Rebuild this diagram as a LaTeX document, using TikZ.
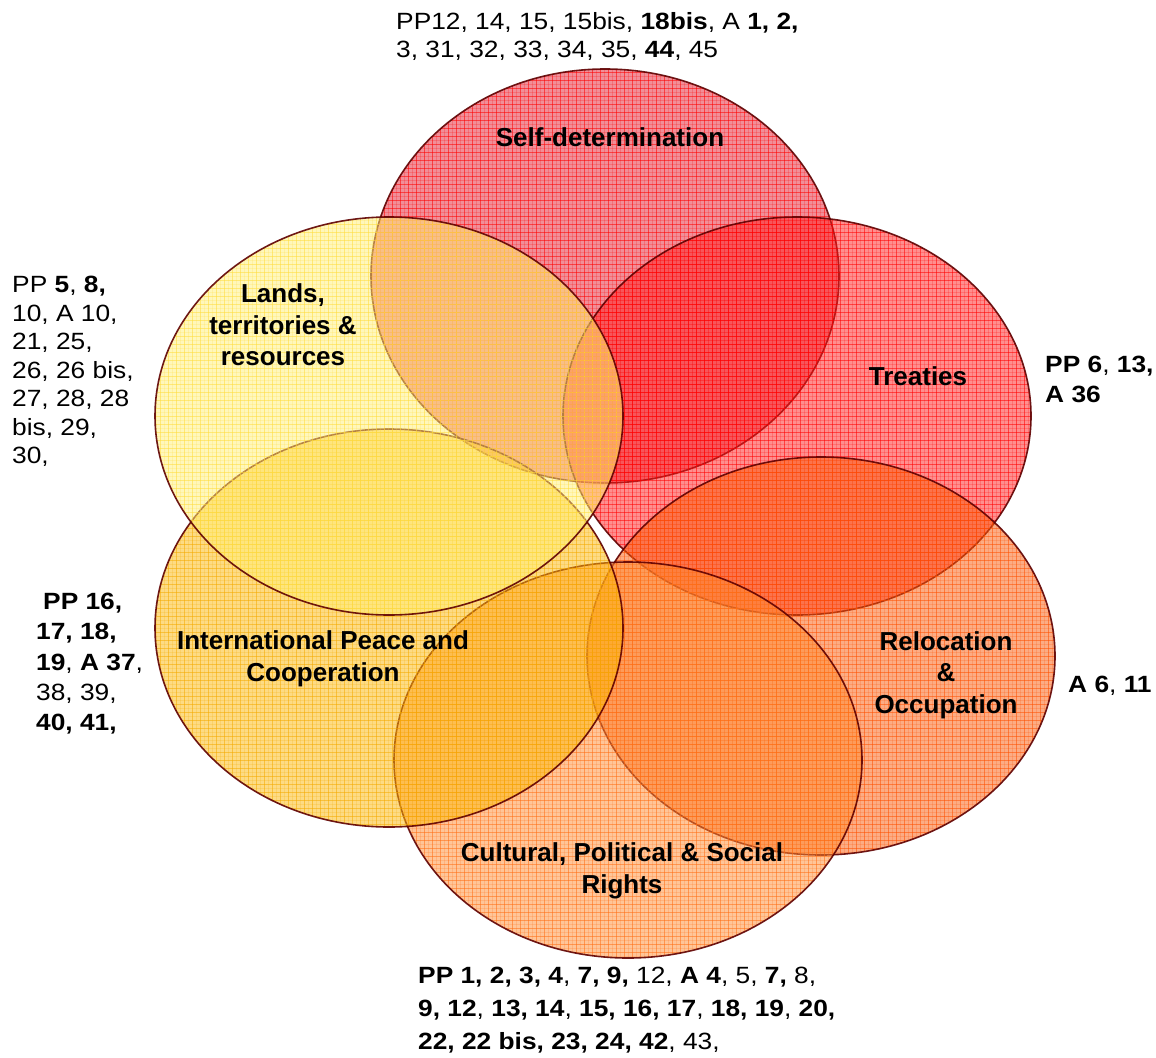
\documentclass[tikz,border=0pt]{standalone}
\usepackage{fontspec}
\setmainfont{Liberation Sans}
\newfontfamily\sidefont[FakeStretch=1.12]{Liberation Sans}
\definecolor{sdfill}{RGB}{228,30,50}
\definecolor{sdgrid}{RGB}{255,0,0}
\definecolor{trfill}{RGB}{255,30,30}
\definecolor{trgrid}{RGB}{255,0,0}
\definecolor{rofill}{RGB}{250,90,10}
\definecolor{rogrid}{RGB}{255,80,0}
\definecolor{cufill}{RGB}{255,140,50}
\definecolor{cugrid}{RGB}{255,110,20}
\definecolor{pcfill}{RGB}{253,185,10}
\definecolor{pcgrid}{RGB}{245,170,0}
\definecolor{lafill}{RGB}{255,240,120}
\definecolor{lagrid}{RGB}{255,220,60}
\definecolor{edgecol}{RGB}{95,0,0}
\newcommand{\vennset}[6]{%
  \fill[#5, fill opacity=0.5] (#1,#2) ellipse [x radius=#3, y radius=#4];
  \begin{scope}
    \clip (#1,#2) ellipse [x radius=#3, y radius=#4];
    \pgfmathsetmacro\xlo{8*floor((#1-#3)/8)}
    \pgfmathsetmacro\ylo{8*floor((#2-#4)/8)}
    \foreach \i in {0,...,60} {
      \draw[#6, draw opacity=0.55, line width=0.9] (\xlo+8*\i, #2-#4-2) -- (\xlo+8*\i, #2+#4+2);
      \draw[#6, draw opacity=0.2, line width=0.4] (\xlo+8*\i+4, #2-#4-2) -- (\xlo+8*\i+4, #2+#4+2);
    }
    \foreach \i in {0,...,52} {
      \draw[#6, draw opacity=0.55, line width=0.9] (#1-#3-2, \ylo+8*\i) -- (#1+#3+2, \ylo+8*\i);
      \draw[#6, draw opacity=0.2, line width=0.4] (#1-#3-2, \ylo+8*\i+4) -- (#1+#3+2, \ylo+8*\i+4);
    }
  \end{scope}
  \draw[edgecol, line width=1.6, draw opacity=0.9] (#1,#2) ellipse [x radius=#3, y radius=#4];
}
\tikzset{
  setlabel/.style={font=\fontsize{26}{31.5}\selectfont\bfseries, align=center, inner sep=0pt},
  sidetext/.style={font=\sidefont\fontsize{23.5}{28}\selectfont, align=left, inner sep=0pt, anchor=north west}
}
\begin{document}
\begin{tikzpicture}[x=1pt, y=-1pt]
\useasboundingbox (0,0) rectangle (1156,1057);
\fill[white] (0,0) rectangle (1156,1057);
% circles in drawing order
\vennset{605}{276}{234}{207}{sdfill}{sdgrid}
\vennset{797}{416}{234}{199}{trfill}{trgrid}
\vennset{821}{656}{234}{199}{rofill}{rogrid}
\vennset{628}{760}{234}{198}{cufill}{cugrid}
\vennset{389}{628}{234}{199}{pcfill}{pcgrid}
\vennset{389}{416}{234}{199}{lafill}{lagrid}
% labels
\node[setlabel] (lsd) at (610,137) {Self-determination};
\node[setlabel] (lla) at (283,325) {Lands,\\territories \&\\resources};
\node[setlabel] (ltr) at (918,376) {Treaties};
\node[setlabel] (lpc) at (323,659) {International Peace and\\Cooperation};
\node[setlabel] (lro) at (946,675) {Relocation\\\&\\Occupation};
\node[setlabel] (lcu) at (622,871) {Cultural, Political \& Social\\Rights};
% side texts
\node[sidetext] (tsd) at (396,12) {PP12, 14, 15, 15bis, \textbf{18bis}, A \textbf{1, 2,}\\3, 31, 32, 33, 34, 35, \textbf{44}, 45};
\node[sidetext, font=\sidefont\fontsize{23.5}{28.5}\selectfont] (tla) at (12,276) {PP \textbf{5}, \textbf{8,}\\10, A 10,\\21, 25,\\26, 26 bis,\\27, 28, 28\\bis, 29,\\30,};
\node[sidetext, font=\sidefont\fontsize{23.5}{30.3}\selectfont] (tpc) at (36,593) {\hspace*{7pt}\textbf{PP 16,}\\\textbf{17, 18,}\\\textbf{19}, \textbf{A 37},\\38, 39,\\\textbf{40, 41,}};
\node[sidetext, font=\sidefont\fontsize{23.5}{30}\selectfont] (ttr) at (1045,356) {\textbf{PP 6}, \textbf{13,}\\\textbf{A 36}};
\node[sidetext] (tro) at (1068,676) {\textbf{A 6}, \textbf{11}};
\node[sidetext, font=\sidefont\fontsize{23.5}{33}\selectfont] (tcu) at (418,967) {\textbf{PP 1, 2, 3, 4}, \textbf{7, 9,} 12, \textbf{A 4}, 5, \textbf{7,} 8,\\\textbf{9, 12}, \textbf{13, 14}, \textbf{15, 16, 17}, \textbf{18, 19}, \textbf{20,}\\\textbf{22, 22 bis, 23, 24, 42}, 43,};
\end{tikzpicture}
\end{document}
